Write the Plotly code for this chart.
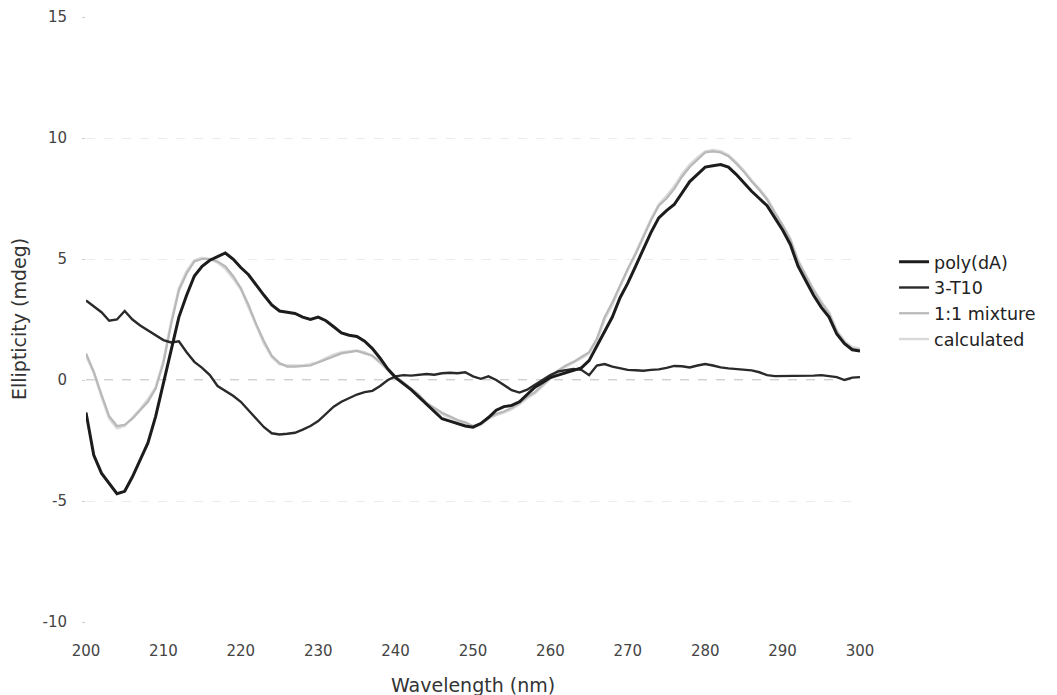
import plotly.graph_objects as go

wavelength = list(range(200, 301))

poly_dA = [-1.34, -3.1, -3.85, -4.3, -4.7, -4.6, -4.0, -3.3, -2.6, -1.5,
           -0.1, 1.2, 2.6, 3.5, 4.3, 4.7, 4.95, 5.1, 5.25, 5.0,
           4.65, 4.35, 3.9, 3.5, 3.1, 2.85, 2.8, 2.75, 2.6, 2.5,
           2.6, 2.45, 2.2, 1.95, 1.85, 1.8, 1.6, 1.3, 0.9, 0.45,
           0.1, -0.15, -0.4, -0.7, -1.0, -1.3, -1.6, -1.7, -1.8, -1.9,
           -1.95, -1.8, -1.55, -1.25, -1.1, -1.05, -0.9, -0.6, -0.3, -0.1,
           0.1, 0.2, 0.3, 0.4, 0.5, 0.8, 1.4, 2.0, 2.6, 3.4,
           4.0, 4.7, 5.4, 6.1, 6.7, 7.0, 7.25, 7.7, 8.2, 8.5,
           8.8, 8.85, 8.9, 8.8, 8.5, 8.15, 7.8, 7.5, 7.2, 6.7,
           6.2, 5.6, 4.7, 4.1, 3.5, 3.0, 2.6, 1.9, 1.5, 1.25,
           1.2]

t10 = [3.29, 3.05, 2.8, 2.45, 2.5, 2.85, 2.5, 2.25, 2.05, 1.85,
       1.65, 1.55, 1.6, 1.15, 0.75, 0.5, 0.2, -0.25, -0.45, -0.65,
       -0.9, -1.25, -1.6, -1.95, -2.2, -2.25, -2.22, -2.18, -2.05, -1.9,
       -1.7, -1.4, -1.1, -0.9, -0.75, -0.6, -0.5, -0.45, -0.25, 0.0,
       0.15, 0.2, 0.18, 0.22, 0.25, 0.22, 0.28, 0.3, 0.28, 0.32,
       0.15, 0.05, 0.15, 0.0, -0.2, -0.42, -0.52, -0.4, -0.2, 0.0,
       0.2, 0.35, 0.42, 0.46, 0.42, 0.2, 0.6, 0.66, 0.55, 0.47,
       0.42, 0.4, 0.38, 0.42, 0.44, 0.5, 0.58, 0.57, 0.52, 0.6,
       0.66, 0.6, 0.52, 0.48, 0.45, 0.42, 0.4, 0.32, 0.2, 0.16,
       0.16, 0.15, 0.15, 0.17, 0.18, 0.2, 0.16, 0.12, 0.0, 0.1,
       0.12]

mixture = [1.1, 0.35, -0.6, -1.5, -1.9, -1.85, -1.6, -1.25, -0.9, -0.35,
           0.7, 2.3, 3.7, 4.4, 4.9, 5.0, 5.0, 4.9, 4.7, 4.3,
           3.8, 3.1, 2.3, 1.6, 1.0, 0.7, 0.55, 0.55, 0.57, 0.6,
           0.72, 0.85, 1.0, 1.1, 1.15, 1.2, 1.1, 1.0, 0.75, 0.45,
           0.15, -0.1, -0.35, -0.6, -0.95, -1.15, -1.35, -1.5, -1.65, -1.75,
           -1.9, -1.8, -1.55, -1.4, -1.3, -1.15, -0.95, -0.7, -0.5, -0.2,
           0.1, 0.4, 0.6, 0.75, 0.95, 1.15, 1.7, 2.6, 3.2, 3.9,
           4.6, 5.2, 5.9, 6.6, 7.2, 7.5, 7.9, 8.4, 8.8, 9.1,
           9.4, 9.45, 9.4, 9.25, 8.95, 8.6, 8.2, 7.85, 7.45, 6.9,
           6.4, 5.8, 4.9, 4.3, 3.7, 3.2, 2.75, 2.0, 1.55, 1.3,
           1.25]

calculated = [1.0, 0.3, -0.7, -1.6, -2.0, -1.9, -1.55, -1.2, -0.8, -0.3,
              0.8, 2.4, 3.8, 4.5, 4.95, 5.05, 5.0, 4.85, 4.6, 4.2,
              3.75, 3.0, 2.2, 1.5, 0.95, 0.65, 0.6, 0.6, 0.6, 0.65,
              0.75, 0.9, 1.05, 1.15, 1.2, 1.22, 1.15, 1.0, 0.7, 0.4,
              0.1, -0.15, -0.4, -0.65, -1.0, -1.2, -1.4, -1.55, -1.7, -1.8,
              -1.95, -1.85, -1.6, -1.45, -1.35, -1.2, -1.0, -0.75, -0.55, -0.25,
              0.05, 0.35, 0.55, 0.72, 0.9, 1.1, 1.6, 2.5, 3.1, 3.85,
              4.55, 5.2, 5.95, 6.65, 7.25, 7.6, 8.0, 8.5, 8.9, 9.2,
              9.45, 9.5, 9.45, 9.3, 9.0, 8.65, 8.25, 7.9, 7.5, 6.95,
              6.45, 5.85, 4.95, 4.35, 3.75, 3.25, 2.8, 2.05, 1.6, 1.35,
              1.3]

x_ticks = [200, 210, 220, 230, 240, 250, 260, 270, 280, 290, 300]
y_ticks = [-10, -5, 0, 5, 10, 15]
y_tick_labels = ["-10", "-5", "0", "5", "10", "15"]
x_title = "Wavelength (nm)"
y_title = "Ellipticity (mdeg)"

font_family = "DejaVu Sans, Verdana, sans-serif"

fig = go.Figure()
fig.add_trace(go.Scatter(x=wavelength, y=calculated, mode="lines", name="calculated",
                         line=dict(color="#dadada", width=2.5), legendrank=4))
fig.add_trace(go.Scatter(x=wavelength, y=mixture, mode="lines", name="1:1 mixture",
                         line=dict(color="#b8b8b8", width=2.2), legendrank=3))
fig.add_trace(go.Scatter(x=wavelength, y=t10, mode="lines", name="3-T10",
                         line=dict(color="#2a2a2a", width=2.4), legendrank=2))
fig.add_trace(go.Scatter(x=wavelength, y=poly_dA, mode="lines", name="poly(dA)",
                         line=dict(color="#1c1c1c", width=3), legendrank=1))

fig.add_hline(y=0, line=dict(color="#a0a0a0", width=1, dash="dash"), layer="below")

fig.add_annotation(text=x_title, xref="paper", yref="paper", x=0.5, y=-0.104,
                   xanchor="center", yanchor="middle", showarrow=False,
                   font=dict(size=19, color="#333333"))
fig.add_annotation(text=y_title, xref="paper", yref="paper", x=-0.0872, y=0.5,
                   xanchor="center", yanchor="middle", showarrow=False, textangle=-90,
                   font=dict(size=19, color="#333333"))

fig.update_layout(
    width=1057, height=695,
    margin=dict(l=86, r=197, t=17, b=73),
    paper_bgcolor="white", plot_bgcolor="white",
    font=dict(family=font_family, color="#333333", size=15),
    showlegend=True,
    legend=dict(x=1.044, xanchor="left", y=0.625, yanchor="top",
                font=dict(size=17.5, color="#222222"), bgcolor="rgba(0,0,0,0)",
                tracegroupgap=0),
    xaxis=dict(range=[200, 300], tickvals=x_ticks, showgrid=False, zeroline=False,
               showline=False, ticks="", ticklabelstandoff=18, automargin=False,
               tickfont=dict(size=15, color="#444444")),
    yaxis=dict(range=[-10, 15], tickvals=y_ticks, ticktext=y_tick_labels,
               showgrid=True, gridcolor="#ececec", automargin=False,
               griddash="dash", gridwidth=1, zeroline=False, showline=False,
               ticks="outside", ticklen=3, tickcolor="#cccccc", ticklabelstandoff=12,
               tickfont=dict(size=15, color="#444444")),
)

fig.write_html("out.html")
